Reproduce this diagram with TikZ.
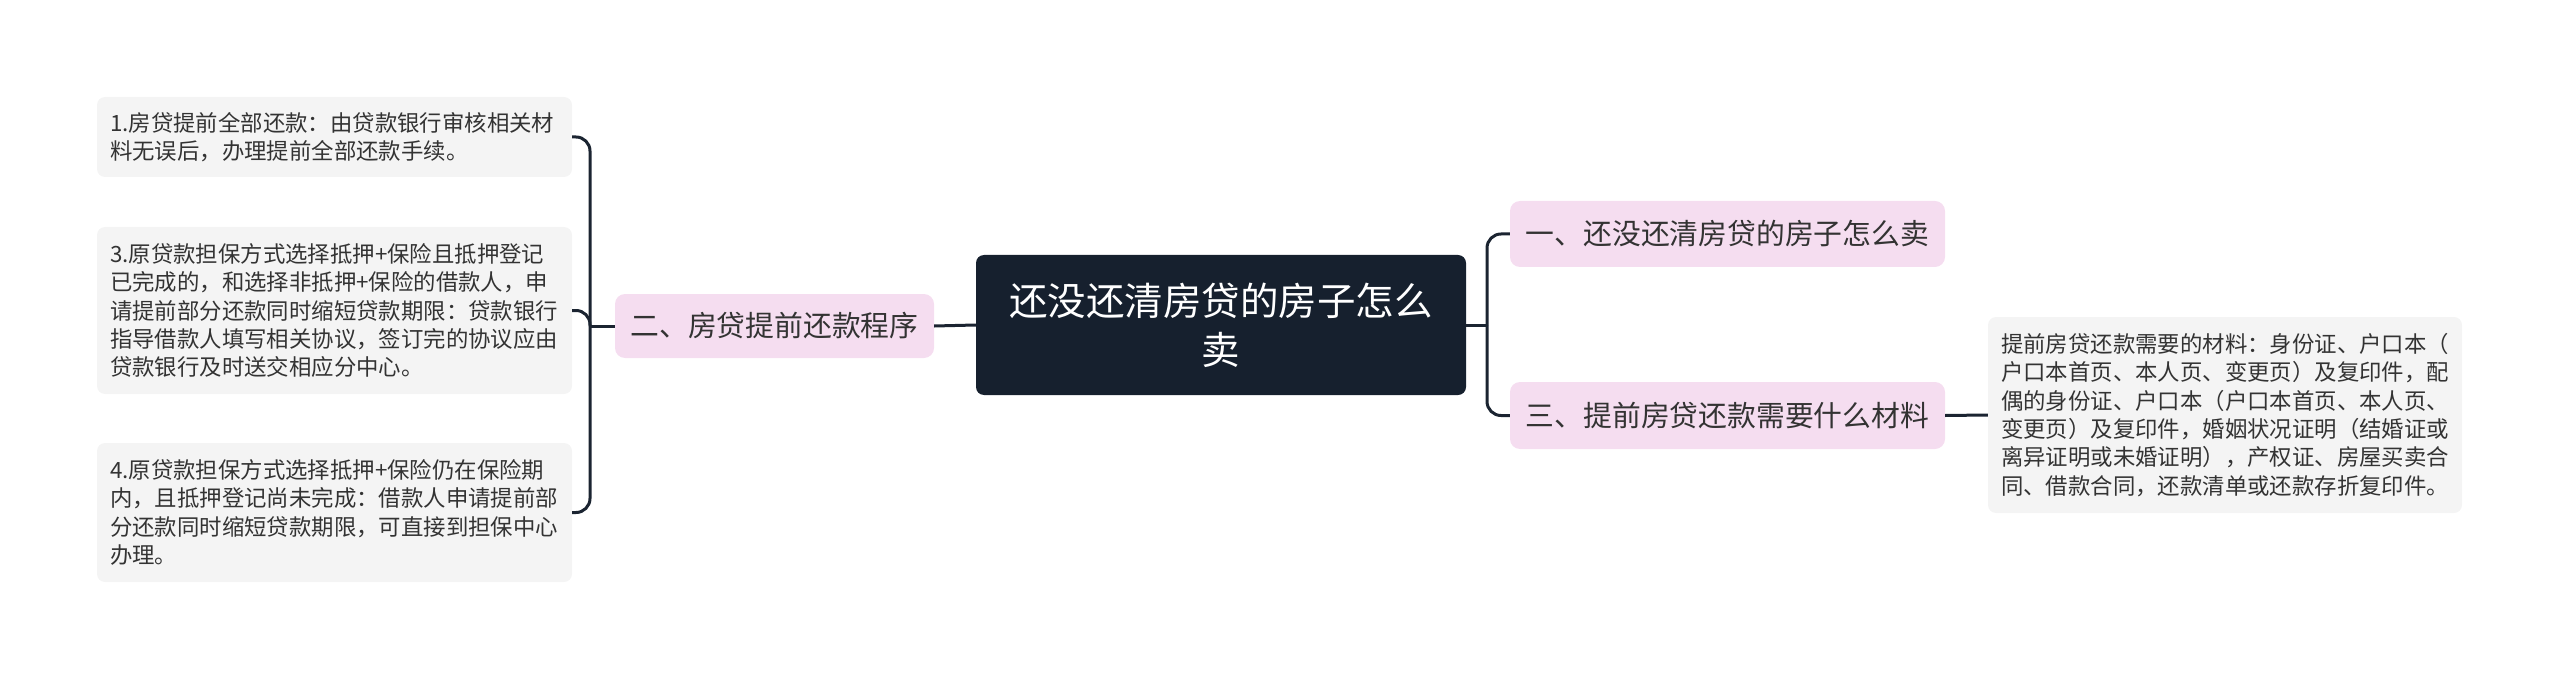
\documentclass[tikz,border=0pt]{standalone}
\usepackage{fontspec}
\setmainfont{Noto Sans CJK SC}
\definecolor{navy}{HTML}{16202E}
\definecolor{pinkbg}{HTML}{F5DDF0}
\definecolor{leafbg}{HTML}{F4F4F4}
\definecolor{txt}{HTML}{333333}
\definecolor{linec}{HTML}{1B2431}
\tikzset{
  leaf/.style={fill=leafbg, rounded corners=8pt, text=txt, align=left, inner xsep=13pt, inner ysep=0pt,
    font=\fontsize{22.4}{28.3}\selectfont, anchor=center},
  branch/.style={fill=pinkbg, rounded corners=10pt, text=txt, align=center, inner sep=0pt,
    font=\fontsize{28.8}{34}\selectfont},
  root/.style={fill=navy, rounded corners=8pt, text=white, align=center, inner sep=0pt,
    font=\fontsize{38.5}{49}\selectfont},
  conn/.style={draw=linec, line width=3pt},
  bconn/.style={draw=linec, line width=3pt, rounded corners=14pt}
}
\begin{document}
\begin{tikzpicture}[x=1pt,y=-1pt]
\useasboundingbox (0,0) rectangle (2560,679);
% root
\node[root, minimum width=490pt, minimum height=140pt] (c) at (1221,325) {还没还清房贷的房子怎么\\卖};
% branches
\node[branch, minimum width=319pt, minimum height=64pt] (b2) at (774.5,326) {二、房贷提前还款程序};
\node[branch, minimum width=435pt, minimum height=66pt] (b1) at (1727.5,234) {一、还没还清房贷的房子怎么卖};
\node[branch, minimum width=435pt, minimum height=67pt] (b3) at (1727.5,415.5) {三、提前房贷还款需要什么材料};
% left leaves
\node[leaf, text width=449pt, minimum height=80pt] (l1) at (334.5,137) {1.房贷提前全部还款：由贷款银行审核相关材\\料无误后，办理提前全部还款手续。};
\node[leaf, text width=449pt, minimum height=167pt] (l3) at (334.5,310.5) {3.原贷款担保方式选择抵押+保险且抵押登记\\已完成的，和选择非抵押+保险的借款人，申\\请提前部分还款同时缩短贷款期限：贷款银行\\指导借款人填写相关协议，签订完的协议应由\\贷款银行及时送交相应分中心。};
\node[leaf, text width=449pt, minimum height=139pt] (l4) at (334.5,512.5) {4.原贷款担保方式选择抵押+保险仍在保险期\\内，且抵押登记尚未完成：借款人申请提前部\\分还款同时缩短贷款期限，可直接到担保中心\\办理。};
% right leaf
\node[leaf, text width=448pt, minimum height=196pt] (r1) at (2225,415) {提前房贷还款需要的材料：身份证、户口本（\\户口本首页、本人页、变更页）及复印件，配\\偶的身份证、户口本（户口本首页、本人页、\\变更页）及复印件，婚姻状况证明（结婚证或\\离异证明或未婚证明），产权证、房屋买卖合\\同、借款合同，还款清单或还款存折复印件。};
% junctions
\coordinate (lj) at (590,326);
\coordinate (rj) at (1487,325);
% connectors
\draw[conn] (c.west) -- (b2.east);
\draw[conn] (b2.west) -- (lj);
\draw[bconn] (lj) |- (l1.east);
\draw[bconn] (lj) |- (l3.east);
\draw[bconn] (lj) |- (l4.east);
\draw[conn] (c.east) -- (rj);
\draw[bconn] (rj) |- (b1.west);
\draw[bconn] (rj) |- (b3.west);
\draw[conn] (b3.east) -- (r1.west);
\end{tikzpicture}
\end{document}
